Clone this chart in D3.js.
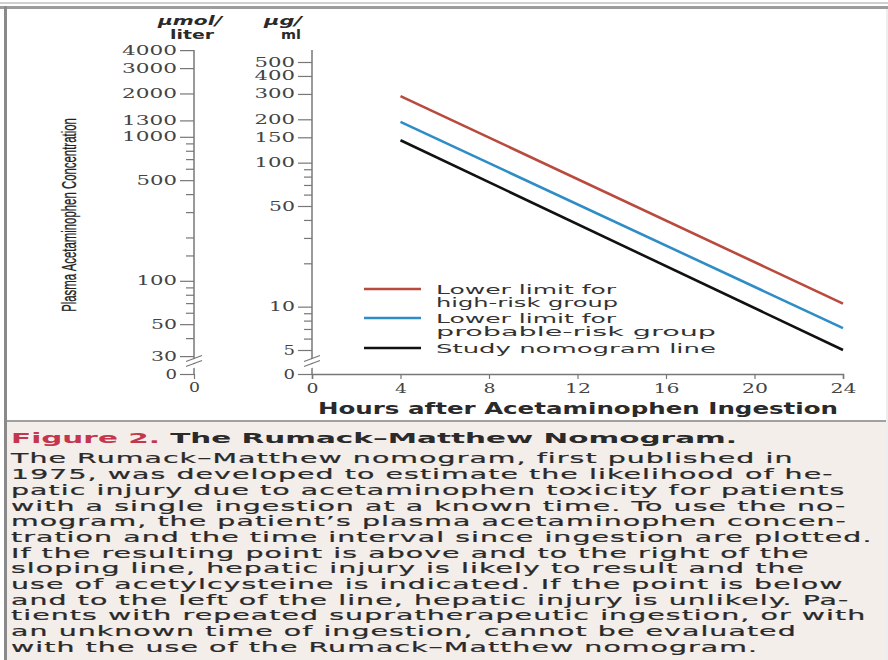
<!DOCTYPE html>
<html><head><meta charset="utf-8">
<script src="https://cdn.jsdelivr.net/npm/d3@7/dist/d3.min.js"></script>
<style>body{margin:0;background:#fff} svg{display:block}</style>
</head><body><svg id="c" width="888" height="660"></svg>
<script>
// ---- data ----
const hours = [4, 24];
const highRisk = [290, 10.5];
const probableRisk = [192, 7.1];
const studyLine = [143, 5.0];
const seriesLabels = [["Lower limit for", "high-risk group"], ["Lower limit for", "probable-risk group"], ["Study nomogram line"]];
const xTicks = [0, 4, 8, 12, 16, 20, 24];
const ugTicks = [500, 400, 300, 200, 150, 100, 50, 10, 5];
const ugMinor = [90, 80, 70, 60, 40, 30, 20, 9, 8, 7, 6];
const umolTicks = [4000, 3000, 2000, 1300, 1000, 500, 100, 50, 30];
const umolMinor = [900, 800, 700, 600, 400, 300, 200, 150, 90, 80, 70, 60, 40];
const UMOL_PER_UG = 6.615;
const captionTitle = ["Figure 2.", " The Rumack\u2013Matthew Nomogram."];
const captionLines = [
  "The Rumack\u2013Matthew nomogram, first published in",
  "1975, was developed to estimate the likelihood of he-",
  "patic injury due to acetaminophen toxicity for patients",
  "with a single ingestion at a known time. To use the no-",
  "mogram, the patient\u2019s plasma acetaminophen concen-",
  "tration and the time interval since ingestion are plotted.",
  "If the resulting point is above and to the right of the",
  "sloping line, hepatic injury is likely to result and the",
  "use of acetylcysteine is indicated. If the point is below",
  "and to the left of the line, hepatic injury is unlikely. Pa-",
  "tients with repeated supratherapeutic ingestion, or with",
  "an unknown time of ingestion, cannot be evaluated",
  "with the use of the Rumack\u2013Matthew nomogram."
];

// ---- setup ----
const svg = d3.select("#c");
const axisCol = "#777", labCol = "#444";
const x = d3.scaleLinear().domain([0, 24]).range([312, 843]);
const y = d3.scaleLog().domain([5, 500]).range([350, 62]);
const yU = d3.scaleLog().domain([5 * UMOL_PER_UG, 500 * UMOL_PER_UG]).range([350, 62]);
const zeroY = 374;
const ugX = 312, umX = 194;

// frame
svg.append("rect").attr("x", 0).attr("y", 0).attr("width", 888).attr("height", 660).attr("fill", "#fff");
svg.append("rect").attr("x", 7).attr("y", 421).attr("width", 881).attr("height", 239).attr("fill", "#f4eeeb");
svg.append("rect").attr("x", 0).attr("y", 2).attr("width", 888).attr("height", 2).attr("fill", "#d0d0d0");
svg.append("rect").attr("x", 0).attr("y", 6).attr("width", 888).attr("height", 3).attr("fill", "#9c9c9c");
svg.append("rect").attr("x", 4).attr("y", 6).attr("width", 3).attr("height", 654).attr("fill", "#8a8a8a");
svg.append("rect").attr("x", 7).attr("y", 420).attr("width", 881).attr("height", 2).attr("fill", "#a0a0a0");
svg.append("rect").attr("x", 886).attr("y", 9).attr("width", 2).attr("height", 651).attr("fill", "#eeeeee");

function styleAxis(g, fontSize, perChar) {
  g.select(".domain").remove();
  g.selectAll(".tick line").attr("stroke", axisCol).attr("stroke-width", 1.2);
  g.selectAll(".tick text").attr("fill", labCol).attr("font-family", "'DejaVu Serif', serif")
    .attr("font-size", fontSize)
    .each(function () {
      const t = d3.select(this);
      const n = t.text().length;
      t.attr("textLength", n * perChar - 3).attr("lengthAdjust", "spacingAndGlyphs");
    });
}

// µg/ml axis
const gUg = svg.append("g").attr("transform", `translate(${ugX},0)`);
gUg.append("g").call(d3.axisLeft(y).tickValues(ugTicks).tickFormat(d3.format("d")).tickSize(14).tickPadding(3))
  .call(g => styleAxis(g, 12.5, 14.5));
gUg.append("g").call(d3.axisLeft(y).tickValues(ugMinor).tickFormat("").tickSize(8))
  .call(g => styleAxis(g, 12.5, 14.5));
gUg.append("g").call(d3.axisLeft(d3.scaleOrdinal().domain(["0"]).range([zeroY])).tickSize(14).tickPadding(3))
  .call(g => styleAxis(g, 12.5, 14.5));

// µmol/liter axis
const gUm = svg.append("g").attr("transform", `translate(${umX},0)`);
gUm.append("g").call(d3.axisLeft(yU).tickValues(umolTicks).tickFormat(d3.format("d")).tickSize(14).tickPadding(3))
  .call(g => styleAxis(g, 12.5, 14.5));
gUm.append("g").call(d3.axisLeft(yU).tickValues(umolMinor).tickFormat("").tickSize(8))
  .call(g => styleAxis(g, 12.5, 14.5));
gUm.append("g").call(d3.axisLeft(d3.scaleOrdinal().domain(["0"]).range([zeroY])).tickSize(14).tickPadding(3))
  .call(g => styleAxis(g, 12.5, 14.5));
gUm.append("g").attr("transform", `translate(0,${zeroY})`)
  .call(d3.axisBottom(d3.scaleOrdinal().domain(["0"]).range([0])).tickSize(5).tickPadding(4))
  .call(g => styleAxis(g, 13, 14));

// vertical axis lines with break marks
[[ugX, y(605)], [umX, yU(4000)]].forEach(([ax, top]) => {
  svg.append("line").attr("x1", ax).attr("x2", ax).attr("y1", top).attr("y2", zeroY)
    .attr("stroke", axisCol).attr("stroke-width", 1.5);
  [0, 5].forEach(off => {
    svg.append("line").attr("x1", ax - 8).attr("x2", ax + 8)
      .attr("y1", 364 + off).attr("y2", 358 + off)
      .attr("stroke", "#fff").attr("stroke-width", 3.5);
  });
  [0, 5].forEach(off => {
    svg.append("line").attr("x1", ax - 8).attr("x2", ax + 8)
      .attr("y1", 364 + off - 2.5).attr("y2", 358 + off - 2.5)
      .attr("stroke", axisCol).attr("stroke-width", 1.2);
  });
});

// x axis
const gx = svg.append("g").attr("transform", `translate(0,${zeroY})`)
  .call(d3.axisBottom(x).tickValues(xTicks).tickSize(5).tickPadding(4));
gx.select(".domain").attr("stroke", axisCol).attr("stroke-width", 1.5);
gx.selectAll(".tick line").attr("stroke", axisCol).attr("stroke-width", 1.2);
gx.selectAll(".tick text").attr("fill", labCol).attr("font-family", "'DejaVu Serif', serif").attr("font-size", 13.5)
  .each(function () { const t = d3.select(this); t.attr("textLength", t.text().length * 14 - 2).attr("lengthAdjust", "spacingAndGlyphs"); });

// axis titles
svg.append("text").attr("x", 578).attr("y", 414).attr("text-anchor", "middle")
  .attr("font-family", "'DejaVu Sans', sans-serif").attr("font-weight", "bold").attr("font-size", 15.5)
  .attr("fill", "#2a2a2a").attr("textLength", 520).attr("lengthAdjust", "spacingAndGlyphs")
  .text("Hours after Acetaminophen Ingestion");
const yTitle = svg.append("text").attr("text-anchor", "middle")
  .attr("font-family", "'Liberation Sans', sans-serif").attr("font-size", 21)
  .attr("fill", "#222").attr("stroke", "#222").attr("stroke-width", 0.3)
  .text("Plasma Acetaminophen Concentration");
const yTitleScale = 194 / yTitle.node().getComputedTextLength();
yTitle.attr("transform", `translate(76,215) rotate(-90) scale(${yTitleScale},1)`);
const unitFont = g => g.attr("text-anchor", "middle").attr("font-family", "'DejaVu Sans', sans-serif")
  .attr("font-weight", "bold").attr("font-size", 13).attr("fill", "#2a2a2a");
svg.append("text").attr("x", 190).attr("y", 25).call(unitFont).attr("font-style", "italic").attr("textLength", 64).attr("lengthAdjust", "spacingAndGlyphs").text("\u03bcmol/");
svg.append("text").attr("x", 192).attr("y", 39).call(unitFont).attr("textLength", 44).attr("lengthAdjust", "spacingAndGlyphs").text("liter");
svg.append("text").attr("x", 283).attr("y", 25).call(unitFont).attr("font-style", "italic").attr("textLength", 38).attr("lengthAdjust", "spacingAndGlyphs").text("\u03bcg/");
svg.append("text").attr("x", 291).attr("y", 39).call(unitFont).attr("textLength", 20).attr("lengthAdjust", "spacingAndGlyphs").text("ml");

// series lines
const series = [
  { vals: highRisk, color: "#b94a3e" },
  { vals: probableRisk, color: "#2e8dc6" },
  { vals: studyLine, color: "#111" }
];
const line = d3.line().x(d => x(d[0])).y(d => y(d[1]));
series.forEach(s => {
  svg.append("path").datum(hours.map((h, i) => [h, s.vals[i]]))
    .attr("d", line).attr("fill", "none").attr("stroke", s.color).attr("stroke-width", 2.6);
});

// legend
const legY = [289, 318, 348];
const legW = [[180, 182], [180, 280], [280]];
series.forEach((s, i) => {
  svg.append("line").attr("x1", 364).attr("x2", 421).attr("y1", legY[i]).attr("y2", legY[i])
    .attr("stroke", s.color).attr("stroke-width", 2.6);
  seriesLabels[i].forEach((t, j) => {
    svg.append("text").attr("x", 436).attr("y", legY[i] + 4.5 + j * 13.5)
      .attr("font-family", "'DejaVu Sans', sans-serif").attr("font-size", 12.5).attr("fill", "#333")
      .attr("textLength", legW[i][j]).attr("lengthAdjust", "spacingAndGlyphs").text(t);
  });
});

// caption
const cap = svg.append("g").attr("font-family", "'DejaVu Sans', sans-serif").attr("letter-spacing", 0.5);
const tt = cap.append("text").attr("x", 0).attr("y", 443).attr("font-size", 14).attr("font-weight", "bold")
  .attr("letter-spacing", 0);
tt.append("tspan").attr("fill", "#c4364e").text(captionTitle[0]);
tt.append("tspan").attr("fill", "#2a2a2a").text(captionTitle[1]);
const body = captionLines.map((t, i) =>
  cap.append("text").attr("x", 0).attr("y", 463.5 + i * 15.7).attr("font-size", 13.5)
    .attr("fill", "#2a2a2a").attr("stroke", "#2a2a2a").attr("stroke-width", 0.2).text(t));
let maxW = 0;
body.forEach(t => { maxW = Math.max(maxW, t.node().getComputedTextLength()); });
const sx = 862 / maxW;
cap.attr("transform", `translate(11,0) scale(${sx},1)`);
</script></body></html>
